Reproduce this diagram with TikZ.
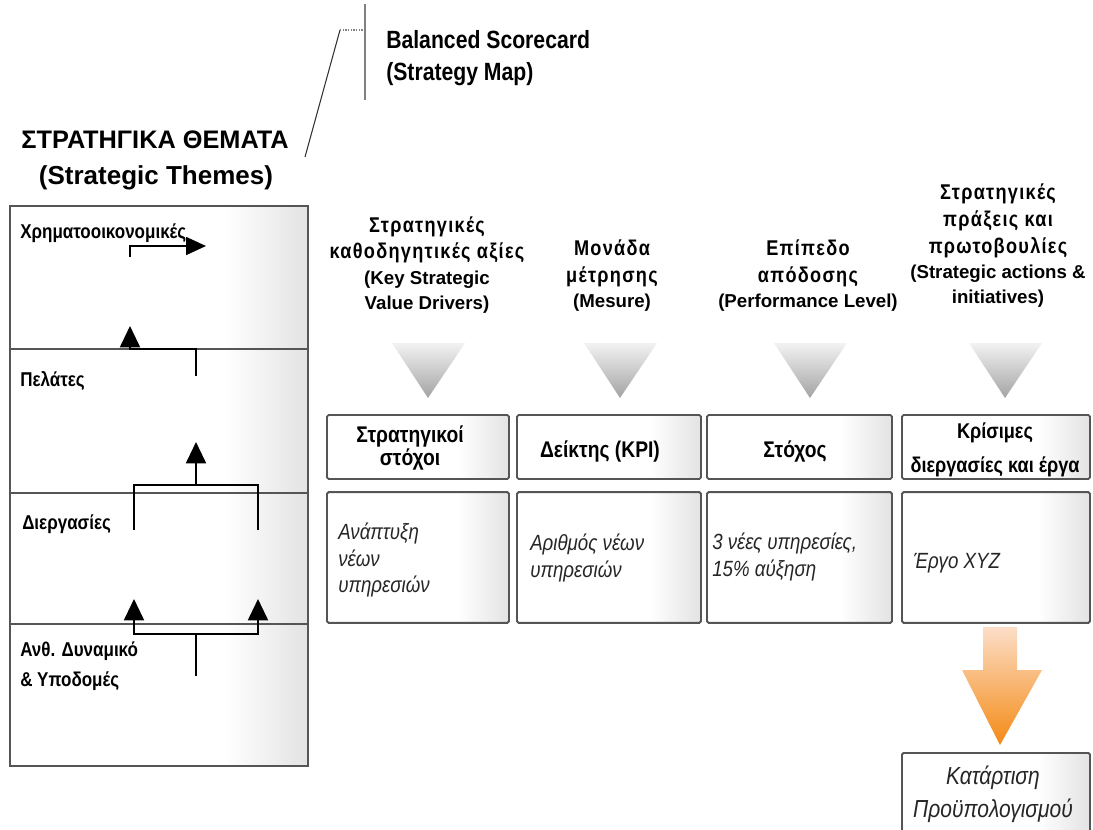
\documentclass[tikz,border=0pt]{standalone}
\usepackage{fontspec}
\setmainfont{Liberation Sans}
\newfontfamily\cond[FakeStretch=0.85]{Liberation Sans}
\newfontfamily\spaced[FakeStretch=0.85,LetterSpace=6]{Liberation Sans}
\newfontfamily\condi[FakeStretch=0.85]{Liberation Sans}
\usetikzlibrary{arrows.meta}
\definecolor{boxline}{RGB}{85,85,85}
\definecolor{peach}{RGB}{252,222,200}
\definecolor{deeporange}{RGB}{244,138,20}
\pgfdeclarehorizontalshading{dotright}{100bp}{color(0bp)=(white); color(25bp)=(white); color(61bp)=(white); color(75bp)=(gray!22); color(100bp)=(gray!22)}
\newcommand{\engsz}{\rmfamily\bfseries\fontsize{14}{17}\selectfont}
\tikzset{
  themelbl/.style={font=\cond\bfseries\fontsize{15}{22}\selectfont, anchor=west, align=left, inner sep=0pt},
  colhdr/.style={font=\spaced\bfseries\fontsize{16}{20}\selectfont, align=center, inner sep=0pt},
  boxtitle/.style={font=\cond\bfseries\fontsize{17}{17}\selectfont, align=center, inner sep=0pt},
  boxtext/.style={font=\condi\itshape\fontsize{16.5}{20}\selectfont, align=left, anchor=west, inner sep=0pt, text=black!85},
  cbox/.style={draw=boxline, line width=1.4pt, rounded corners=1.2pt, shading=dotright, inner sep=0pt},
  divider/.style={draw=boxline, line width=1.6pt},
  bigarr/.style={line width=1.5pt, -{Triangle[length=16pt,width=15pt]}},
  plain/.style={line width=1.5pt},
  funnel/.style={top color=gray!10, bottom color=gray!72},
}
\begin{document}
\begin{tikzpicture}[x=0.75pt,y=-0.75pt]
\useasboundingbox (0,0) rectangle (1093,829);

% ---------------- title / callout ----------------
\node[font=\bfseries\fontsize{19}{22}\selectfont, inner sep=0pt] (themes) at (155,140) {ΣΤΡΑΤΗΓΙΚΑ ΘΕΜΑΤΑ};
\node[font=\bfseries\fontsize{19.5}{22}\selectfont, inner sep=0pt] (themesen) at (156,178) {(Strategic Themes)};
\node[font=\cond\bfseries\fontsize{18.7}{22}\selectfont, anchor=west, align=left, inner sep=0pt] (bsc) at (386,58) {Balanced Scorecard\\[2pt](Strategy Map)};
\coordinate (cA) at (305,157);
\coordinate (cB) at (340,30);
\coordinate (cC) at (365,30);
\coordinate (vT) at (365,4);
\coordinate (vB) at (365,100);
\draw[line width=0.8pt, black!80] (cA) -- (cB);
\draw[line width=1pt, gray, densely dotted] (cB) -- (cC);
\draw[line width=0.9pt, gray] (vT) -- (vB);

% ---------------- left panel ----------------
\node[draw=boxline, line width=1.4pt, shading=dotright, minimum width=223.5pt, minimum height=420pt, inner sep=0pt] (panel) at (159,486) {};
\coordinate (d1L) at (10,349); \coordinate (d1R) at (308,349);
\coordinate (d2L) at (10,493); \coordinate (d2R) at (308,493);
\coordinate (d3L) at (10,624); \coordinate (d3R) at (308,624);
\draw[divider] (d1L) -- (d1R);
\draw[divider] (d2L) -- (d2R);
\draw[divider] (d3L) -- (d3R);

\node[themelbl] (fin) at (20,233) {Χρηματοοικονομικές};
\node[themelbl] (cust) at (20,381) {Πελάτες};
\node[themelbl] (proc) at (22,524) {Διεργασίες};
\node[themelbl, font=\cond\bfseries\fontsize{15}{22.5}\selectfont] (hr) at (20,666) {Ανθ. Δυναμικό\\\& Υποδομές};

% finance arrow
\coordinate (f0) at (130,257); \coordinate (f1) at (130,246); \coordinate (f2) at (206,246);
\draw[line width=1.3pt, -{Triangle[length=15pt,width=13.5pt]}] (f0) -- (f1) -- (f2);
% customers -> finance
\coordinate (p0) at (196,376); \coordinate (p1) at (196,349); \coordinate (p2) at (130,349); \coordinate (p3) at (130,326);
\draw[bigarr] (p0) -- (p1) -- (p2) -- (p3);
% processes -> customers
\coordinate (q1) at (134,530); \coordinate (q2) at (134,485); \coordinate (q3) at (258,485); \coordinate (q4) at (258,530);
\coordinate (qm) at (196,485); \coordinate (qt) at (196,442);
\draw[plain] (q1) -- (q2) -- (q3) -- (q4);
\draw[bigarr] (qm) -- (qt);
% learning -> processes
\coordinate (r0) at (196,676); \coordinate (rm) at (196,634);
\coordinate (rl) at (134,634); \coordinate (rlt) at (134,599);
\coordinate (rr) at (258,634); \coordinate (rrt) at (258,599);
\draw[bigarr] (r0) -- (rm) -- (rl) -- (rlt);
\draw[bigarr] (rm) -- (rr) -- (rrt);

% ---------------- column headers ----------------
\node[colhdr] (h1) at (427,265) {Στρατηγικές\\καθοδηγητικές αξίες\\[-1pt]{\engsz (Key Strategic}\\[-1pt]{\engsz Value Drivers)}};
\node[colhdr] (h2) at (612,276) {Μονάδα\\μέτρησης\\[-1pt]{\engsz (Mesure)}};
\node[colhdr] (h3) at (808,276) {Επίπεδο\\απόδοσης\\[-1pt]{\engsz (Performance Level)}};
\node[colhdr] (h4) at (998,246) {Στρατηγικές\\πράξεις και\\πρωτοβουλίες\\[-1pt]{\engsz (Strategic actions \&}\\[-1pt]{\engsz initiatives)}};

% funnels
\shade[funnel] (392,343) -- (465,343) -- (428,398) -- cycle;
\shade[funnel] (584,343) -- (657,343) -- (620,398) -- cycle;
\shade[funnel] (774,343) -- (847,343) -- (810,398) -- cycle;
\shade[funnel] (969,343) -- (1042,343) -- (1005,398) -- cycle;

% ---------------- boxes ----------------
\node[cbox, minimum width=136.5pt, minimum height=48pt] (b1) at (418,447) {};
\node[cbox, minimum width=138pt, minimum height=48pt] (b2) at (609,447) {};
\node[cbox, minimum width=138.75pt, minimum height=48pt] (b3) at (799.5,447) {};
\node[cbox, minimum width=141pt, minimum height=48pt] (b4) at (996,447) {};

\node[boxtitle] (t1) at (410,448) {Στρατηγικοί\\στόχοι};
\node[boxtitle] (t2) at (600,451) {Δείκτης (KPI)};
\node[boxtitle] (t3) at (795,451) {Στόχος};
\node[boxtitle, font=\cond\bfseries\fontsize{16}{26}\selectfont] (t4) at (995,450) {Κρίσιμες\\διεργασίες και έργα};

\node[cbox, minimum width=136.5pt, minimum height=98pt] (c1) at (418,557.5) {};
\node[cbox, minimum width=138pt, minimum height=98pt] (c2) at (609,557.5) {};
\node[cbox, minimum width=138.75pt, minimum height=98pt] (c3) at (799.5,557.5) {};
\node[cbox, minimum width=141pt, minimum height=98pt] (c4) at (996,557.5) {};

\node[boxtext] (x1) at (338,560) {Ανάπτυξη\\νέων\\υπηρεσιών};
\node[boxtext] (x2) at (530,558) {Αριθμός νέων\\υπηρεσιών};
\node[boxtext] (x3) at (712,557) {3 νέες υπηρεσίες,\\15\% αύξηση};
\node[boxtext] (x4) at (913,563) {Έργο ΧΥΖ};

% ---------------- orange arrow + budget box ----------------
\shade[top color=peach, bottom color=deeporange] (983,627) -- (1017,627) -- (1017,670) -- (1042,670) -- (1000,745) -- (962,670) -- (983,670) -- cycle;
\node[cbox, minimum width=141pt, minimum height=70pt, anchor=north] (bud) at (996,752) {};
\node[boxtext, anchor=center, align=center, font=\condi\itshape\fontsize{18.5}{25}\selectfont] (budt) at (993,794) {Κατάρτιση\\Προϋπολογισμού};
\end{tikzpicture}
\end{document}
